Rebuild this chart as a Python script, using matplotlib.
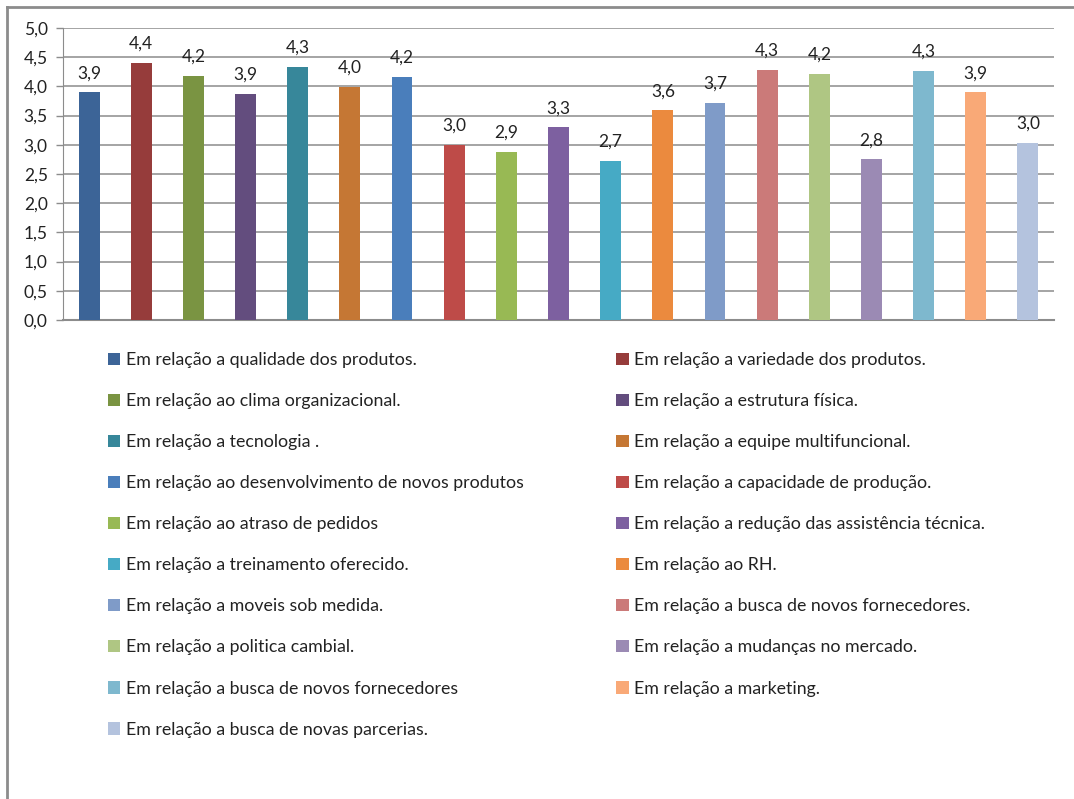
import matplotlib.pyplot as plt
from matplotlib.lines import Line2D
from matplotlib.patches import Patch

plt.rcParams['font.family'] = ['Lato', 'DejaVu Sans']

# categories (legend labels), in bar order
labels = [
    'Em relação a qualidade dos produtos.',
    'Em relação a variedade dos produtos.',
    'Em relação ao clima organizacional.',
    'Em relação a estrutura física.',
    'Em relação a tecnologia .',
    'Em relação a equipe multifuncional.',
    'Em relação ao desenvolvimento de novos produtos',
    'Em relação a capacidade de produção.',
    'Em relação ao atraso de pedidos',
    'Em relação a redução das assistência técnica.',
    'Em relação a treinamento oferecido.',
    'Em relação ao RH.',
    'Em relação a moveis sob medida.',
    'Em relação a busca de novos fornecedores.',
    'Em relação a politica cambial.',
    'Em relação a mudanças no mercado.',
    'Em relação a busca de novos fornecedores',
    'Em relação a marketing.',
    'Em relação a busca de novas parcerias.',
]

values = [3.90, 4.40, 4.18, 3.87, 4.33, 3.99, 4.16, 3.00, 2.88, 3.30,
          2.72, 3.59, 3.72, 4.28, 4.22, 2.75, 4.26, 3.90, 3.03]

colors = ['#3C6497', '#963C3B', '#7A9442', '#634D7E', '#37879A', '#C57734',
          '#4A7EBB', '#BE4B48', '#98B954', '#7D60A0', '#46AAC5', '#EB8A3E',
          '#7F9BC8', '#CB7A79', '#AFC683', '#9B8AB4', '#7EB8CE', '#F9A977',
          '#B4C3DE']

yticks = [0.0, 0.5, 1.0, 1.5, 2.0, 2.5, 3.0, 3.5, 4.0, 4.5, 5.0]

fig = plt.figure(figsize=(10.74, 7.99), dpi=100)
ax = fig.add_axes([63 / 1074, 1 - 320 / 799, (1054 - 63) / 1074, (320 - 28) / 799])

x = list(range(len(values)))
ax.bar(x, values, width=0.4, color=colors, zorder=3)

for xi, v in zip(x, values):
    ax.annotate(f'{v:.1f}'.replace('.', ','), (xi, v), xytext=(0, 8),
                textcoords='offset points', ha='center', va='bottom',
                fontsize=12.5, color='#222222')

ax.set_xlim(-0.5, len(values) - 0.5)
ax.set_ylim(0, 5)
ax.set_yticks(yticks)
ax.set_yticklabels([f'{t:.1f}'.replace('.', ',') for t in yticks], fontsize=12.5, color='#222222')
ax.set_xticks([])
ax.yaxis.grid(True, color='#8C8C8C', linewidth=1.1, zorder=0)
ax.tick_params(axis='y', length=5, width=1, color='#8C8C8C', pad=6)
for s in ['top', 'right']:
    ax.spines[s].set_visible(False)
ax.spines['left'].set_color('#8C8C8C')
ax.spines['bottom'].set_color('#8C8C8C')
ax.spines['bottom'].set_linewidth(1.5)

# legend, two columns filled row by row
handles = [Patch(facecolor=c, edgecolor='none') for c in colors]
rows = (len(labels) + 1) // 2
order = [2 * r for r in range(rows)] + [2 * r + 1 for r in range(rows) if 2 * r + 1 < len(labels)]
leg = fig.legend([handles[i] for i in order], [labels[i] for i in order],
                 ncol=2, loc='upper left', bbox_to_anchor=(108 / 1074, 1 - 352 / 799),
                 frameon=False, fontsize=12.8, handlelength=0.7, handleheight=0.7,
                 handletextpad=0.3, columnspacing=5.2, labelspacing=1.41,
                 borderpad=0, borderaxespad=0, labelcolor='#222222')

# outer frame
fig.add_artist(Line2D([7 / 1074, 1], [1 - 7 / 799] * 2, color='#8C8C8C', linewidth=2))
fig.add_artist(Line2D([7 / 1074] * 2, [0, 1 - 7 / 799], color='#8C8C8C', linewidth=2))

fig.savefig('out.png', dpi=100)
